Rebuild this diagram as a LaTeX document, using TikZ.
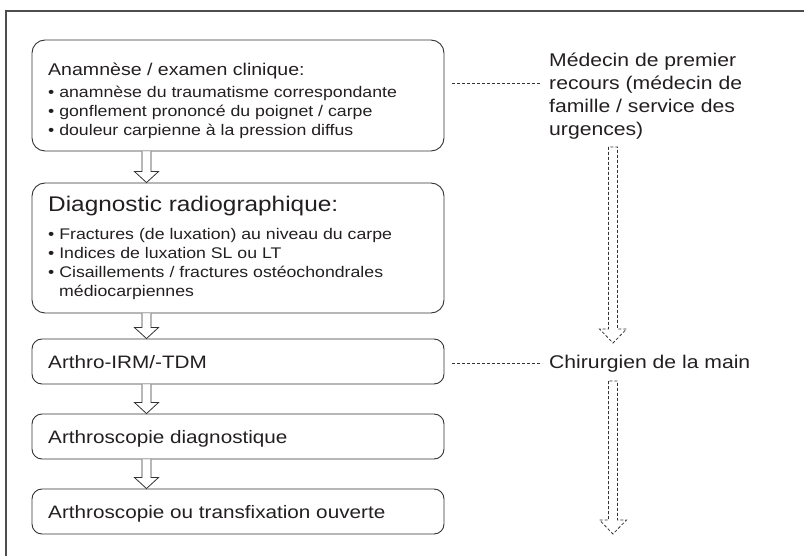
\documentclass[tikz,border=0pt]{standalone}
\usepackage{fontspec}
\setmainfont[FakeStretch=1.15]{Liberation Sans}
\usetikzlibrary{calc}
\definecolor{ink}{HTML}{231F20}
\definecolor{linec}{HTML}{333333}
\definecolor{framec}{HTML}{4D4D4D}
\newcommand\hollowarrow[7]{%
  \draw[#1] ($(#2)+(-#4,0)$) -- ($(#3)+(-#4,-#6)$) -- ($(#3)+(-#5,-#6)$) -- (#3)
    -- ($(#3)+(#5,-#6)$) -- ($(#3)+(#4,-#6)$) -- ($(#2)+(#4,0)$) #7;}
\begin{document}
\begin{tikzpicture}[x=1pt,y=-1pt,
  box/.style={draw=linec, line width=0.9pt, inner sep=0pt},
  headtxt/.style={anchor=base west, inner sep=0pt, text=ink, font=\fontsize{17}{20}\selectfont},
  txt/.style={anchor=base west, inner sep=0pt, text=ink, font=\fontsize{15.4}{19}\selectfont},
  steptxt/.style={anchor=base west, inner sep=0pt, text=ink, font=\fontsize{18}{21}\selectfont},
  bigtxt/.style={anchor=base west, inner sep=0pt, text=ink, font=\fontsize{21.2}{25}\selectfont},
  lbl/.style={anchor=base west, inner sep=0pt, text=ink, font=\fontsize{18.4}{23}\selectfont},
  solidarrow/.style={draw=linec, line width=0.8pt, fill=white, line join=miter},
  dasharrow/.style={draw=linec, line width=0.8pt, dash pattern=on 3pt off 2pt},
  dashline/.style={draw=linec, line width=0.8pt, dash pattern=on 3pt off 2pt}]
\useasboundingbox (0,0) rectangle (804,556);
% frame (top and left only)
\draw[framec, line width=1.2pt] (804,11) -- (6,11) -- (6,556);

% boxes
\node[box, minimum width=412pt, minimum height=111pt, rounded corners=13pt] (b1) at (238,95.5) {};
\node[box, minimum width=412pt, minimum height=130pt, rounded corners=13pt] (b2) at (238,248) {};
\node[box, minimum width=412pt, minimum height=45pt, rounded corners=10pt] (b3) at (238,361.5) {};
\node[box, minimum width=412pt, minimum height=45pt, rounded corners=10pt] (b4) at (238,436.5) {};
\node[box, minimum width=412pt, minimum height=45pt, rounded corners=10pt] (b5) at (238,511.5) {};

% box 1 text
\node[headtxt] (t1h) at (48,76) {Anamnèse / examen clinique:};
\node[txt] (t1a) at (48,98) {\textbullet\ anamnèse du traumatisme correspondante};
\node[txt] (t1b) at (48,117) {\textbullet\ gonflement prononcé du poignet / carpe};
\node[txt] (t1c) at (48,136) {\textbullet\ douleur carpienne à la pression diffus};

% box 2 text
\node[bigtxt] (t2h) at (48,212) {Diagnostic radiographique:};
\node[txt] (t2a) at (48,240) {\textbullet\ Fractures (de luxation) au niveau du carpe};
\node[txt] (t2b) at (48,259) {\textbullet\ Indices de luxation SL ou LT};
\node[txt] (t2c) at (48,278) {\textbullet\ Cisaillements / fractures ostéochondrales};
\node[txt] (t2d) at (59,297) {médiocarpiennes};

% boxes 3-5 text
\node[steptxt] (t3) at (48,368) {Arthro-IRM/-TDM};
\node[steptxt] (t4) at (48,443) {Arthroscopie diagnostique};
\node[steptxt] (t5) at (48,518) {Arthroscopie ou transfixation ouverte};

% right labels
\node[lbl] (m1) at (549,67) {Médecin de premier};
\node[lbl] (m2) at (549,90) {recours (médecin de};
\node[lbl] (m3) at (549,113) {famille / service des};
\node[lbl] (m4) at (549,136) {urgences)};
\node[lbl] (ch) at (549,369) {Chirurgien de la main};

% dashed connectors
\coordinate (d1a) at (452,83);
\coordinate (d1b) at (540,83);
\draw[dashline] (d1a) -- (d1b);
\coordinate (d2a) at (452,363);
\coordinate (d2b) at (542,363);
\draw[dashline] (d2a) -- (d2b);

% solid hollow arrows
\coordinate (ax) at (146.5,0);
\coordinate (s1) at (b1.south -| ax); \coordinate (e1) at (b2.north -| ax);
\coordinate (s2) at (b2.south -| ax); \coordinate (e2) at (b3.north -| ax);
\coordinate (s3) at (b3.south -| ax); \coordinate (e3) at (b4.north -| ax);
\coordinate (s4) at (b4.south -| ax); \coordinate (e4) at (b5.north -| ax);
\hollowarrow{solidarrow}{s1}{e1}{4.5}{12}{11}{}
\hollowarrow{solidarrow}{s2}{e2}{4.5}{12}{11}{}
\hollowarrow{solidarrow}{s3}{e3}{4.5}{12}{11}{}
\hollowarrow{solidarrow}{s4}{e4}{4.5}{12}{11}{}

% dashed hollow arrows
\coordinate (ra1) at (613,147); \coordinate (rb1) at (613,343);
\coordinate (ra2) at (613,381); \coordinate (rb2) at (613,534);
\hollowarrow{dasharrow}{ra1}{rb1}{4.5}{13.5}{14}{-- cycle}
\hollowarrow{dasharrow}{ra2}{rb2}{4.5}{13.5}{14}{-- cycle}
\end{tikzpicture}
\end{document}
